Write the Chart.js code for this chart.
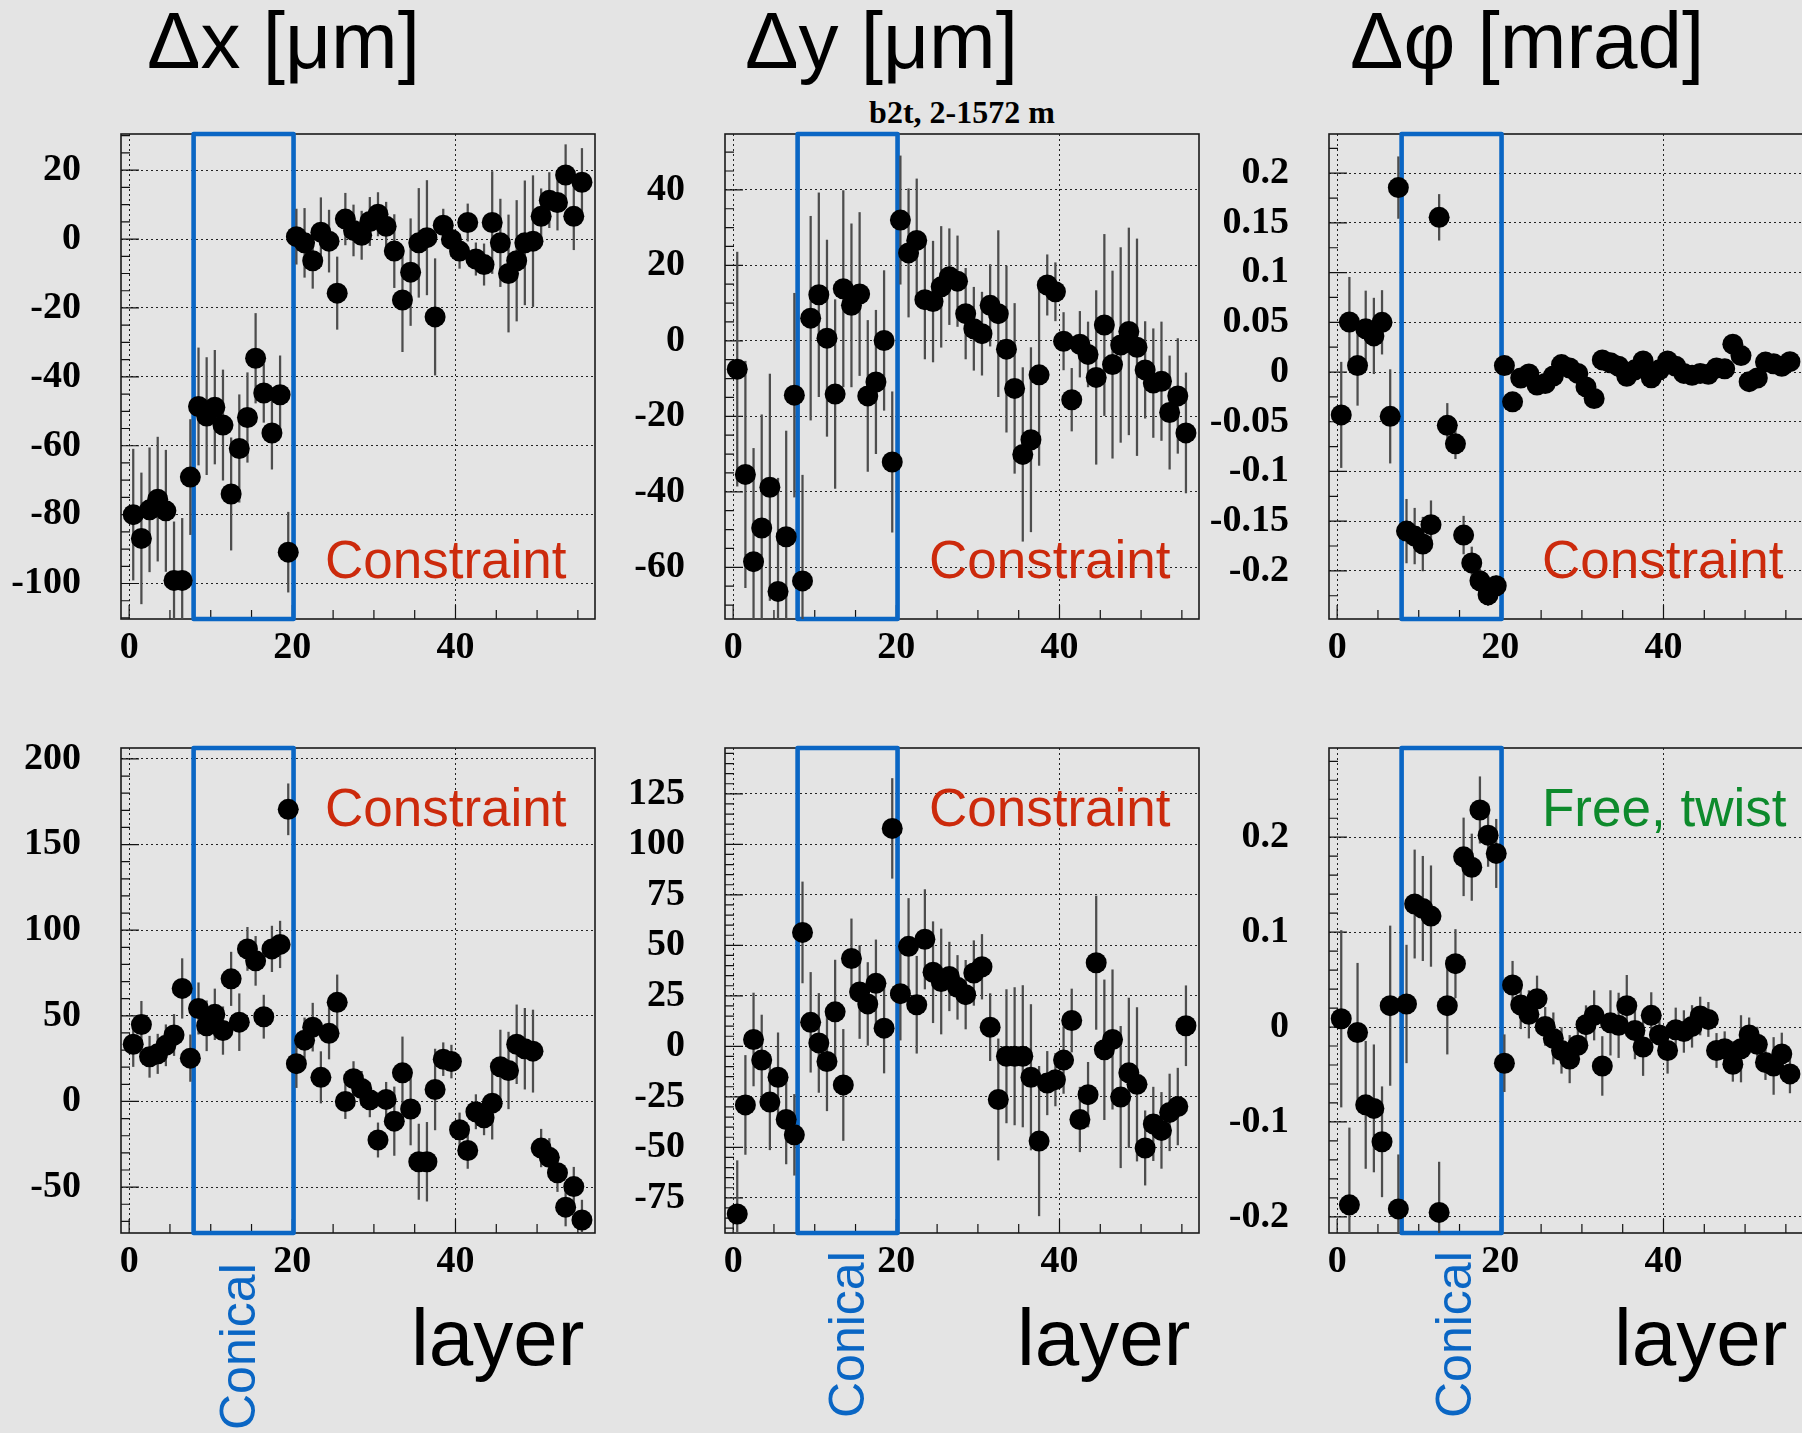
<!DOCTYPE html>
<html>
<head>
<meta charset="utf-8">
<script src="https://cdn.jsdelivr.net/npm/chart.js@4/dist/chart.umd.min.js"></script>
<style>
  html, body { margin: 0; padding: 0; background: #e4e4e4; overflow: hidden; }
  #page { position: relative; width: 1802px; height: 1433px; overflow: hidden; background: #e4e4e4; }
  #page canvas { position: absolute; }
  .txt { position: absolute; white-space: nowrap; font-family: "Liberation Sans", Arial, sans-serif; }
  .title { font-size: 80px; line-height: 80px; top: 1px; color: #000; }
  .sub { font-family: "Liberation Serif", "Times New Roman", serif; font-weight: bold; font-size: 32px; line-height: 32px;
         left: 962px; top: 96px; transform: translateX(-50%); color: #000; }
  .note { font-size: 53px; line-height: 53px; }
  .red { color: #cc2a0c; }
  .green { color: #0d8a2c; }
  .layer { font-size: 80px; line-height: 80px; top: 1298px; color: #000; }
  .conical { font-size: 50px; line-height: 50px; color: #0a66c4; transform-origin: 0 0; transform: rotate(-90deg); }
</style>
</head>
<body>
<div id="page">
  <div class="txt title" style="left:147px">Δx [μm]</div>
  <div class="txt title" style="left:745px">Δy [μm]</div>
  <div class="txt title" style="left:1350px">Δφ [mrad]</div>
  <div class="txt sub">b2t, 2-1572 m</div>

  <canvas id="p1"></canvas>
  <canvas id="p2"></canvas>
  <canvas id="p3"></canvas>
  <canvas id="p4"></canvas>
  <canvas id="p5"></canvas>
  <canvas id="p6"></canvas>

  <div class="txt note red" style="left:325px; top:533px">Constraint</div>
  <div class="txt note red" style="left:929px; top:533px">Constraint</div>
  <div class="txt note red" style="left:1542px; top:533px">Constraint</div>
  <div class="txt note red" style="left:325px; top:781px">Constraint</div>
  <div class="txt note red" style="left:929px; top:781px">Constraint</div>
  <div class="txt note green" style="left:1542px; top:781px">Free, twist</div>

  <div class="txt conical" style="left:213px; top:1430px">Conical</div>
  <div class="txt conical" style="left:822px; top:1418px">Conical</div>
  <div class="txt conical" style="left:1429px; top:1418px">Conical</div>

  <div class="txt layer" style="left:411px">layer</div>
  <div class="txt layer" style="left:1017px">layer</div>
  <div class="txt layer" style="left:1614px">layer</div>
</div>

<script>
// layer numbers (points sit at bin centres, layer + 0.5)
const layers = [0, 1, 2, 3, 4, 5, 6, 7, 8, 9, 10, 11, 12, 13, 14, 15, 16, 17, 18, 19,
  20, 21, 22, 23, 24, 25, 26, 27, 28, 29, 30, 31, 32, 33, 34, 35, 36, 37, 38, 39,
  40, 41, 42, 43, 44, 45, 46, 47, 48, 49, 50, 51, 52, 53, 54, 55];
const binCentre = 0.5;

// conical section of the chamber
const conicalFrom = 7.9;
const conicalTo = 20.15;

// top row
const dxTop = [-80, -86.9, -78.6, -75.5, -78.9, -99.1, -99.1, -69.1, -48.6, -51.4,
  -48.8, -54, -74, -60.8, -51.8, -34.6, -44.7, -56.3, -45.2, -90.9,
  0.7, -1.1, -6.3, 2, -0.6, -15.7, 5.8, 2.5, 1.1, 5.1,
  7.2, 3.7, -3.5, -17.7, -9.6, -1.1, 0.4, -22.6, 4, -0.1,
  -3.5, 4.8, -5.8, -7.4, 4.8, -1.1, -10, -6.3, -1.1, -0.6,
  6.6, 11.3, 10.6, 18.6, 6.6, 16.5];
const dxTopErr = [19, 19, 18, 18, 17.6, 17, 18, 16.7, 17, 17,
  16.5, 16, 16.3, 15.6, 13, 13, 8.5, 10.5, 11.3, 11.6,
  8, 10, 8, 10, 9, 10.5, 7.5, 7.4, 7, 7,
  6.3, 7, 10.6, 15, 15.5, 15.8, 16.6, 16.9, 4.7, 5,
  5, 5.4, 4.7, 6, 14.8, 12.7, 17, 17.5, 18, 19,
  8, 8, 8, 8.8, 9.7, 9.8];

const dyTop = [-7.5, -35.4, -58.5, -49.6, -38.8, -66.4, -51.9, -14.4, -63.6, 6.0,
  12.2, 0.7, -14.1, 13.8, 9.4, 12.4, -14.6, -10.9, 0.1, -32.1,
  32.0, 23.3, 26.6, 10.9, 10.4, 14.3, 17.0, 15.8, 7.2, 3.2,
  1.9, 9.4, 7.2, -2.2, -12.6, -30.1, -26.2, -9.0, 14.8, 13.0,
  -0.1, -15.6, -0.9, -3.6, -9.7, 4.2, -6.3, -1.1, 2.5, -1.7,
  -7.7, -11.2, -10.7, -19.0, -14.6, -24.4];
const dyTopErr = [31, 30, 30, 30, 30, 30, 28, 27, 28, 27,
  27, 26, 25, 26, 21.6, 21.6, 20, 19, 18.5, 18.6,
  17, 17, 16.3, 15.7, 16, 16, 12.7, 12, 12, 11,
  11, 10.8, 22, 22, 22.5, 23, 24.4, 24, 8, 7.7,
  7.6, 8.3, 8.7, 8.6, 23, 24, 24.8, 25.8, 27.4, 28.7,
  12.8, 14.4, 15.7, 15, 15.2, 15.9];

const dphiTop = [-0.0431, 0.0503, 0.0065, 0.0435, 0.0363, 0.05, -0.0446, 0.1855, -0.16, -0.165,
  -0.173, -0.1535, 0.1556, -0.0536, -0.0722, -0.164, -0.192, -0.21, -0.224, -0.215,
  0.0065, -0.03, -0.006, -0.002, -0.013, -0.0115, -0.004, 0.0075, 0.004, -0.0014,
  -0.015, -0.0266, 0.0122, 0.0093, 0.0058, -0.0043, 0.0022, 0.0111, -0.0058, 0.0022,
  0.0111, 0.0058, -0.0014, -0.0032, -0.0014, -0.0022, 0.004, 0.0032, 0.028, 0.0165,
  -0.0097, -0.006, 0.01, 0.0083, 0.0058, 0.0104];
const dphiTopErr = [0.053, 0.045, 0.04, 0.038, 0.038, 0.032, 0.047, 0.031, 0.032, 0.028,
  0.027, 0.024, 0.023, 0.022, 0.015, 0.019, 0.016, 0.012, 0.011, 0.01,
  0.008, 0.008, 0.007, 0.007, 0.007, 0.007, 0.006, 0.006, 0.006, 0.006,
  0.006, 0.006, 0.005, 0.005, 0.005, 0.005, 0.005, 0.005, 0.005, 0.005,
  0.005, 0.005, 0.005, 0.005, 0.005, 0.005, 0.005, 0.005, 0.005, 0.005,
  0.005, 0.005, 0.005, 0.005, 0.005, 0.005];

// bottom row
const dxBot = [33.4, 44.9, 26.1, 27.8, 32.8, 38.8, 66.0, 25.3, 54.3, 44.2,
  50.9, 41.4, 71.6, 46.3, 89.1, 82.1, 49.5, 89.1, 91.7, 170.6,
  22.1, 35.8, 43.4, 14.1, 39.8, 57.9, 0, 13.3, 7.6, 1,
  -22.5, 1.2, -11.5, 16.7, -4.4, -35.2, -35.2, 7, 24.7, 23.3,
  -16.5, -28.6, -6.0, -9.5, -1, 20.3, 18.1, 33.4, 30.8, 29.4,
  -27.2, -32.6, -41.6, -61.7, -49.7, -69.2];
const dxBotErr = [13, 13.6, 12, 11.5, 12, 12, 17.4, 13.6, 15, 14.6,
  14.8, 13.9, 15.6, 16.6, 12.6, 14.3, 12.6, 13.3, 13.6, 14.9,
  14, 13, 14, 15, 15, 16, 10, 10, 10, 10,
  10, 10, 20, 21, 21, 22, 23, 23.6, 9.6, 9.6,
  9.8, 10.5, 10, 10, 21, 21.4, 22.4, 23, 23.6, 24,
  11, 11, 11, 11, 11.3, 11.6];

const dyBot = [-83, -29, 3.4, -6.8, -27.6, -15.3, -36.2, -43.8, 56.4, 11.9,
  1.7, -7.5, 17.1, -19.1, 43.5, 26.9, 21, 31.2, 9, 107.9,
  26.1, 49.5, 20.6, 53, 36.7, 32.1, 34.6, 29.2, 25.6, 36.3,
  39.4, 9.5, -26.3, -4.9, -4.9, -4.9, -15.3, -46.9, -18.2, -16.5,
  -6.8, 12.8, -36.2, -23.9, 41.4, -1.7, 3.4, -25.1, -13.1, -18.8,
  -50.3, -38.4, -41.6, -32.7, -29.8, 10.2];
const dyBotErr = [26.4, 24.5, 23, 22.3, 23.6, 22, 22, 20, 25, 24.7,
  24.5, 24.4, 25.6, 27.5, 19.6, 23, 20.5, 21.5, 22.2, 24.7,
  23, 23.7, 24, 24.6, 25, 26, 17, 15.8, 17, 16,
  16, 16.6, 30, 33, 34, 35, 36, 37, 15.7, 13,
  16.5, 15.6, 16, 16, 33, 34.6, 34.5, 35, 37, 38,
  18.4, 18.2, 18.8, 19, 19, 19.8];

const dphiBot = [0.0087, -0.1873, -0.0058, -0.082, -0.0857, -0.1209, 0.0225, -0.1916, 0.0243, 0.1296,
  0.1249, 0.1169, -0.1953, 0.0225, 0.0668, 0.1793, 0.1684, 0.2287, 0.2022, 0.1829,
  -0.0381, 0.0443, 0.0232, 0.0134, 0.0298, 0.0007, -0.012, -0.0247, -0.0338, -0.0192,
  0.0025, 0.0123, -0.041, 0.0044, 0.0018, 0.0225, -0.0036, -0.0211, 0.0123, -0.0083,
  -0.0247, -0.0029, -0.0047, 0.0007, 0.0116, 0.008, -0.0247, -0.0229, -0.0392, -0.0229,
  -0.0083, -0.0181, -0.0374, -0.041, -0.0283, -0.0494];
const dphiBotErr = [0.093, 0.081, 0.073, 0.067, 0.067, 0.058, 0.084, 0.057, 0.062, 0.057,
  0.055, 0.053, 0.053, 0.051, 0.036, 0.041, 0.035, 0.035, 0.033, 0.036,
  0.03, 0.025, 0.025, 0.025, 0.024, 0.02, 0.027, 0.024, 0.025, 0.02,
  0.02, 0.026, 0.031, 0.034, 0.034, 0.032, 0.03, 0.03, 0.024, 0.02,
  0.024, 0.023, 0.022, 0.022, 0.02, 0.018, 0.018, 0.018, 0.018, 0.035,
  0.018, 0.018, 0.018, 0.03, 0.022, 0.02];

// tick labels
const layerTicks = [0, 20, 40];
const dxTopTicks = [-100, -80, -60, -40, -20, 0, 20];
const dyTopTicks = [-60, -40, -20, 0, 20, 40];
const dphiTopTicks = [-0.2, -0.15, -0.1, -0.05, 0, 0.05, 0.1, 0.15, 0.2];
const dxBotTicks = [-50, 0, 50, 100, 150, 200];
const dyBotTicks = [-75, -50, -25, 0, 25, 50, 75, 100, 125];
const dphiBotTicks = [-0.2, -0.1, 0, 0.1, 0.2];

// plot frame geometry
const PLOT_W = 474, PLOT_H = 485;
const Y_AXIS_W = 120, X_AXIS_H = 60, PAD_T = 12, PAD_R = 12;

const panels = [
  { id: "p1", left: 121, top: 134, values: dxTop, errors: dxTopErr, yMin: -110.3, yMax: 30.5, yTicks: dxTopTicks, yMinor: 5 },
  { id: "p2", left: 725, top: 134, values: dyTop, errors: dyTopErr, yMin: -73.7, yMax: 54.8, yTicks: dyTopTicks, yMinor: 5 },
  { id: "p3", left: 1329, top: 134, values: dphiTop, errors: dphiTopErr, yMin: -0.2484, yMax: 0.2394, yTicks: dphiTopTicks, yMinor: 0.025 },
  { id: "p4", left: 121, top: 748, values: dxBot, errors: dxBotErr, yMin: -76.8, yMax: 206.4, yTicks: dxBotTicks, yMinor: 10 },
  { id: "p5", left: 725, top: 748, values: dyBot, errors: dyBotErr, yMin: -92.4, yMax: 147.7, yTicks: dyBotTicks, yMinor: 5 },
  { id: "p6", left: 1329, top: 748, values: dphiBot, errors: dphiBotErr, yMin: -0.217, yMax: 0.294, yTicks: dphiBotTicks, yMinor: 0.02 },
];

const tickFont = { family: '"Liberation Serif", "Times New Roman", serif', size: 38, weight: "bold" };

function eachStep(min, max, step, fn) {
  for (let k = Math.ceil(min / step - 1e-9); k * step <= max + 1e-9; k++) fn(k * step);
}

// ROOT-like frame: inner ticks, solid box and the blue "conical" rectangle
function framePlugin(p) {
  return {
    id: "rootFrame",
    beforeDatasetsDraw(chart) {
      const { ctx, chartArea: a, scales: { x, y } } = chart;
      ctx.save();
      ctx.strokeStyle = "#111";
      ctx.lineWidth = 1.2;
      ctx.beginPath();
      eachStep(y.min, y.max, p.yMinor, (v) => {
        const py = y.getPixelForValue(v);
        ctx.moveTo(a.left, py);
        ctx.lineTo(a.left + 9, py);
      });
      p.yTicks.forEach((v) => {
        const py = y.getPixelForValue(v);
        ctx.moveTo(a.left, py);
        ctx.lineTo(a.left + 18, py);
      });
      eachStep(x.min, x.max, 5, (v) => {
        const px = x.getPixelForValue(v);
        ctx.moveTo(px, a.bottom);
        ctx.lineTo(px, a.bottom - 9);
      });
      layerTicks.forEach((v) => {
        const px = x.getPixelForValue(v);
        ctx.moveTo(px, a.bottom);
        ctx.lineTo(px, a.bottom - 14);
      });
      ctx.stroke();

      ctx.lineWidth = 1.6;
      ctx.strokeStyle = "#1a1a1a";
      ctx.strokeRect(a.left, a.top, a.right - a.left, a.bottom - a.top);

      const x0 = x.getPixelForValue(conicalFrom);
      const x1 = x.getPixelForValue(conicalTo);
      ctx.strokeStyle = "#0a66c4";
      ctx.lineWidth = 4.6;
      ctx.lineJoin = "round";
      ctx.strokeRect(x0, a.top, x1 - x0, a.bottom - a.top);
      ctx.restore();
    },
  };
}

panels.forEach((p) => {
  const canvas = document.getElementById(p.id);
  const cw = Y_AXIS_W + PLOT_W + PAD_R;
  const ch = PAD_T + PLOT_H + X_AXIS_H;
  canvas.width = cw;
  canvas.height = ch;
  canvas.style.width = cw + "px";
  canvas.style.height = ch + "px";
  canvas.style.left = (p.left - Y_AXIS_W) + "px";
  canvas.style.top = (p.top - PAD_T) + "px";

  const points = layers.map((l, i) => ({ x: l + binCentre, y: p.values[i] }));
  const bars = layers.map((l, i) => ({ x: l + binCentre, y: [p.values[i] - p.errors[i], p.values[i] + p.errors[i]] }));

  new Chart(canvas.getContext("2d"), {
    type: "scatter",
    data: {
      datasets: [
        {
          type: "scatter",
          data: points,
          pointRadius: 10.5,
          pointHoverRadius: 10.5,
          backgroundColor: "#000",
          borderColor: "#000",
          borderWidth: 0,
          order: 0,
        },
        {
          type: "bar",
          data: bars,
          backgroundColor: "#4d4d4d",
          barThickness: 1.6,
          order: 1,
        },
      ],
    },
    options: {
      responsive: false,
      animation: false,
      events: [],
      layout: { padding: { top: PAD_T, right: PAD_R, left: 0, bottom: 0 } },
      plugins: { legend: { display: false }, tooltip: { enabled: false } },
      scales: {
        x: {
          type: "linear",
          min: -1,
          max: 57.1,
          offset: false,
          afterBuildTicks: (s) => { s.ticks = layerTicks.map((v) => ({ value: v })); },
          afterFit: (s) => {
            s.height = X_AXIS_H;
            s.paddingLeft = s.paddingRight = s.paddingTop = s.paddingBottom = 0;
          },
          grid: { color: "#222", lineWidth: 1, drawTicks: false, offset: false },
          border: { display: false, dash: [2, 3] },
          ticks: { padding: 6, color: "#000", font: tickFont, maxRotation: 0, minRotation: 0, autoSkip: false,
                   callback: (v) => String(v) },
        },
        y: {
          type: "linear",
          min: p.yMin,
          max: p.yMax,
          afterBuildTicks: (s) => { s.ticks = p.yTicks.map((v) => ({ value: v })); },
          afterFit: (s) => {
            s.width = Y_AXIS_W;
            s.paddingLeft = s.paddingRight = s.paddingTop = s.paddingBottom = 0;
          },
          grid: { color: "#222", lineWidth: 1, drawTicks: false },
          border: { display: false, dash: [2, 3] },
          ticks: { padding: 40, color: "#000", font: tickFont, autoSkip: false,
                   callback: (v) => String(v) },
        },
      },
    },
    plugins: [framePlugin(p)],
  });
});
</script>
</body>
</html>
